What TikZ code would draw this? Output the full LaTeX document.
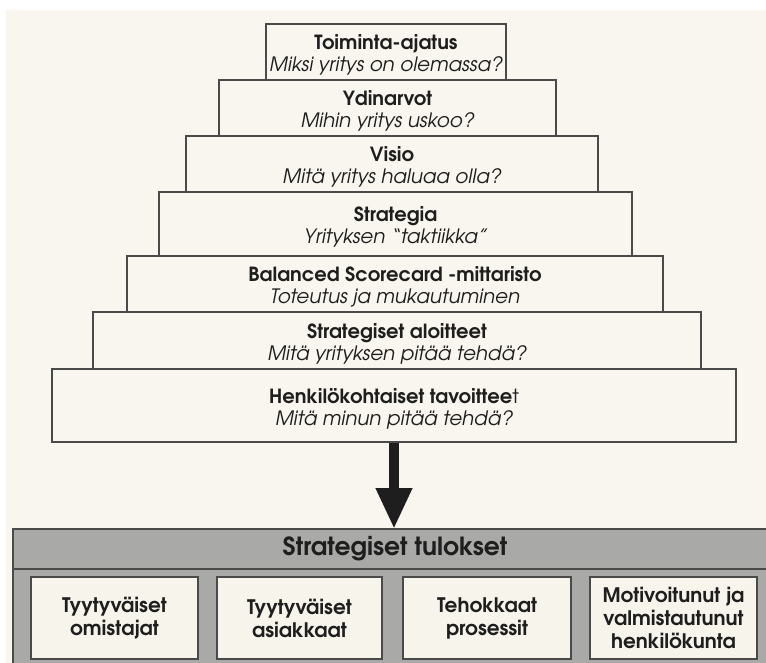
\documentclass[tikz,border=0pt]{standalone}
\usepackage{fontspec}
\setmainfont{TeX Gyre Adventor}
\usetikzlibrary{arrows.meta}
\definecolor{paper}{HTML}{F8F6EE}
\definecolor{ink}{HTML}{1E1E1E}
\definecolor{frame}{HTML}{4A4A4A}
\definecolor{panel}{HTML}{A9A9A7}
\definecolor{card}{HTML}{F7F4EC}
\newcommand{\steptitle}[1]{{\rule{0pt}{21pt}\fontsize{19.5}{22}\selectfont\bfseries #1}}
\newcommand{\stepsub}[1]{{\fontsize{19.8}{22}\selectfont\itshape #1}}
\begin{document}
\begin{tikzpicture}[x=1pt,y=-1pt,
  stepbox/.style={draw=frame, line width=1.2pt, fill=paper, inner sep=0pt,
    align=center, text=ink, font=\fontsize{20}{22}\selectfont},
  cardbox/.style={draw=frame, line width=1.2pt, fill=card, inner sep=0pt,
    minimum width=#1, minimum height=82pt, align=center, text=ink,
    font=\fontsize{20}{23}\selectfont\bfseries},
  hdr/.style={text=ink, font=\fontsize{25}{28}\selectfont\bfseries},
  bigarrow/.style={draw=ink, line width=10pt,
    -{Triangle[length=41pt,width=34pt]}}]
% page
\useasboundingbox (0,0) rectangle (766,663);
\fill[white] (0,0) rectangle (766,663);
\fill[paper] (6,10) rectangle (766,663);

% pyramid of steps
\node[stepbox, minimum width=240pt, minimum height=56pt] (s1) at (386,52)
  {\steptitle{Toiminta-ajatus}\\\stepsub{Miksi yritys on olemassa?}};
\node[stepbox, minimum width=337pt, minimum height=56pt] (s2) at (387.5,108)
  {\steptitle{Ydinarvot}\\\stepsub{Mihin yritys uskoo?}};
\node[stepbox, minimum width=412pt, minimum height=56pt] (s3) at (392,164)
  {\steptitle{Visio}\\\stepsub{Mitä yritys haluaa olla?}};
\node[stepbox, minimum width=473pt, minimum height=64pt] (s4) at (395.5,224)
  {\steptitle{Strategia}\\\stepsub{Yrityksen ``taktiikka''}};
\node[stepbox, minimum width=536pt, minimum height=56pt] (s5) at (395,284)
  {\steptitle{Balanced Scorecard -mittaristo}\\\stepsub{Toteutus ja mukautuminen}};
\node[stepbox, minimum width=608pt, minimum height=57pt] (s6) at (397,340.5)
  {\steptitle{Strategiset aloitteet}\\\stepsub{Mitä yrityksen pitää tehdä?}};
\node[stepbox, minimum width=684pt, minimum height=73pt] (s7) at (394,405.5)
  {\steptitle{Henkilökohtaiset tavoittee{\mdseries t}}\\\stepsub{Mitä minun pitää tehdä?}};

% results panel
\node[fill=panel, inner sep=0pt, minimum width=753pt, minimum height=134pt,
  anchor=north west] (res) at (13,529) {};
\draw[frame, line width=1.2pt] (res.south west) -- (res.north west) -- (res.north east);
\draw[frame, line width=1.2pt] ([yshift=-40pt]res.north west) -- ([yshift=-40pt]res.north east);
\node[hdr] (title) at (395,549) {Strategiset tulokset};

\node[cardbox=167pt] (c1) at (114.5,618) {Tyytyväiset\\omistajat};
\node[cardbox=165pt] (c2) at (299.5,618) {Tyytyväiset\\asiakkaat};
\node[cardbox=168pt] (c3) at (487,618) {Tehokkaat\\prosessit};
\node[cardbox=167pt] (c4) at (673.5,618) {Motivoitunut ja\\valmistautunut\\henkilökunta};

% arrow from the steps to the results
\draw[bigarrow] (s7.south) -- (s7.south |- res.north);
\end{tikzpicture}
\end{document}
